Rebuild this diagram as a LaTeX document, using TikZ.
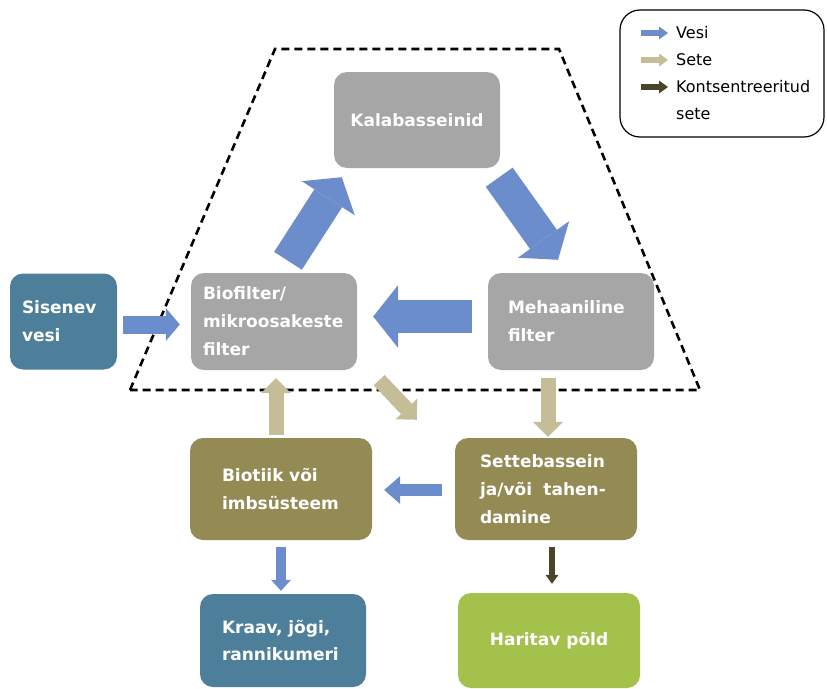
\documentclass[tikz,border=0pt]{standalone}
\usepackage{fontspec}
\setmainfont{DejaVu Sans}
\usetikzlibrary{positioning, arrows.meta}

\definecolor{hall}{HTML}{A6A6A6}
\definecolor{sinine}{HTML}{4D7F9A}
\definecolor{oliiv}{HTML}{948A54}
\definecolor{roheline}{HTML}{A4C14C}
\definecolor{vesivarv}{HTML}{6B8DCB}
\definecolor{setevarv}{HTML}{C4BD97}
\definecolor{kontsvarv}{HTML}{4A452A}

\tikzset{
  box/.style={rectangle, rounded corners=13pt, text=white, inner ysep=0pt,
    font=\fontsize{17}{28}\selectfont\bfseries},
  vasak/.style args={#1/#2/#3}{box, minimum width=#1, minimum height=#2,
    text width=#1-2*#3, inner xsep=#3, align=left},
  kesk/.style args={#1/#2}{box, minimum width=#1, minimum height=#2, align=center},
  nool/.style args={#1/#2/#3}{line width=#1,
    -{Triangle[width=#2, length=#3, line width=0pt]}},
  vesi/.style={draw=vesivarv},
  sete/.style={draw=setevarv},
  konts/.style={draw=kontsvarv}
}

\begin{document}
\begin{tikzpicture}[x=1pt, y=-1pt, node distance=2cm, on grid]
    \useasboundingbox (0,0) rectangle (827,688);

    % kogumaht
    \draw[line width=2.6pt, dash pattern=on 8pt off 5pt]
        (130,390) -- (275,49) -- (559,49) -- (700,390) -- cycle;

    \node[kesk={166pt/96pt}, fill=hall] (kala) at (417,120) {Kalabasseinid};
    \node[vasak={166pt/97pt/12pt}, fill=hall, below left=201.5pt and 143pt of kala] (bio)
        {Biofilter/\\mikroosakeste\\filter};
    \node[vasak={166pt/97pt/20pt}, fill=hall, right=297pt of bio] (meh)
        {Mehaaniline\\filter};
    \node[vasak={107pt/96pt/12pt}, fill=sinine, left=210.5pt of bio] (sis)
        {Sisenev\\vesi};
    \node[vasak={182pt/102pt/32pt}, fill=oliiv, below right=167.5pt and 7pt of bio] (biot)
        {Biotiik või\\imbsüsteem};
    \node[vasak={182pt/102pt/25pt}, fill=oliiv, right=265pt of biot] (sette)
        {Settebassein\\ja/või~~tahen-\\damine};
    \node[vasak={166pt/93pt/22pt}, fill=sinine, below right=151.5pt and 2pt of biot] (kraav)
        {Kraav, jõgi,\\rannikumeri};
    \node[kesk={182pt/95pt}, fill=roheline, right=266pt of kraav] (harit)
        {Haritav põld};

    % vesi
    \draw[vesi, nool={33pt/63pt/25pt}]
        ([xshift=14pt, yshift=12pt]bio.north) -- ([xshift=8pt, yshift=-9pt]kala.south west);
    \draw[vesi, nool={33pt/63pt/25pt}]
        ([xshift=-1pt, yshift=-9pt]kala.south east) -- ([xshift=-13pt, yshift=13pt]meh.north);
    \draw[vesi, nool={33pt/63pt/25pt}, shorten <=16pt, shorten >=16pt]
        ([yshift=5pt]meh.west) -- ([yshift=5pt]meh.west -| bio.east);
    \draw[vesi, nool={18pt/33pt/14pt}, shorten <=6pt, shorten >=11pt]
        ([yshift=-3pt]sis.east) -- ([yshift=-3pt]sis.east -| bio.west);
    \draw[vesi, nool={12pt/28pt/16pt}, shorten <=13pt, shorten >=12pt]
        ([yshift=-1pt]sette.west) -- ([yshift=-1pt]sette.west -| biot.east);
    \draw[vesi, nool={10pt/20pt/11pt}, shorten <=7pt, shorten >=3pt]
        (biot.south) -- (biot.south |- kraav.north);

    % sete
    \draw[sete, nool={15pt/30pt/15pt}, shorten <=8pt, shorten >=1pt]
        ([xshift=2pt]sette.north |- meh.south) -- ([xshift=2pt]sette.north);
    \draw[sete, nool={15pt/30pt/15pt}, shorten <=3pt, shorten >=8pt]
        ([xshift=-5pt]biot.north) -- ([xshift=-5pt]biot.north |- bio.south);
    \draw[sete, nool={15pt/30pt/15pt}]
        ([xshift=22pt, yshift=-10pt]bio.south east) -- ([xshift=-38pt, yshift=18pt]sette.north west);

    % kontsentreeritud sete
    \draw[konts, nool={6pt/13pt/9pt}, shorten <=7pt, shorten >=9pt]
        ([xshift=6pt]sette.south) -- ([xshift=6pt]sette.south |- harit.north);

    % legend
    \node[draw, line width=1.2pt, rounded corners=20pt, minimum width=204pt,
        minimum height=127pt] (legend) at (722,73.5) {};
    \begin{scope}[font=\fontsize{16}{26.7}\selectfont]
        \node[anchor=west, inner sep=0pt] (lvesi) at (676,33) {Vesi};
        \node[anchor=west, inner sep=0pt] (lsete) at (676,60) {Sete};
        \node[anchor=west, inner sep=0pt, align=left] (lkonts) at (676,100)
            {Kontsentreeritud\\sete};
    \end{scope}
    \draw[vesi, nool={6pt/13pt/9pt}] ([xshift=-35pt]lvesi.west) -- ([xshift=-8pt]lvesi.west);
    \draw[sete, nool={6pt/13pt/9pt}] ([xshift=-35pt]lsete.west) -- ([xshift=-8pt]lsete.west);
    \draw[konts, nool={6pt/13pt/9pt}] ([xshift=-35pt, yshift=13pt]lkonts.west)
        -- ([xshift=-8pt, yshift=13pt]lkonts.west);
\end{tikzpicture}
\end{document}
